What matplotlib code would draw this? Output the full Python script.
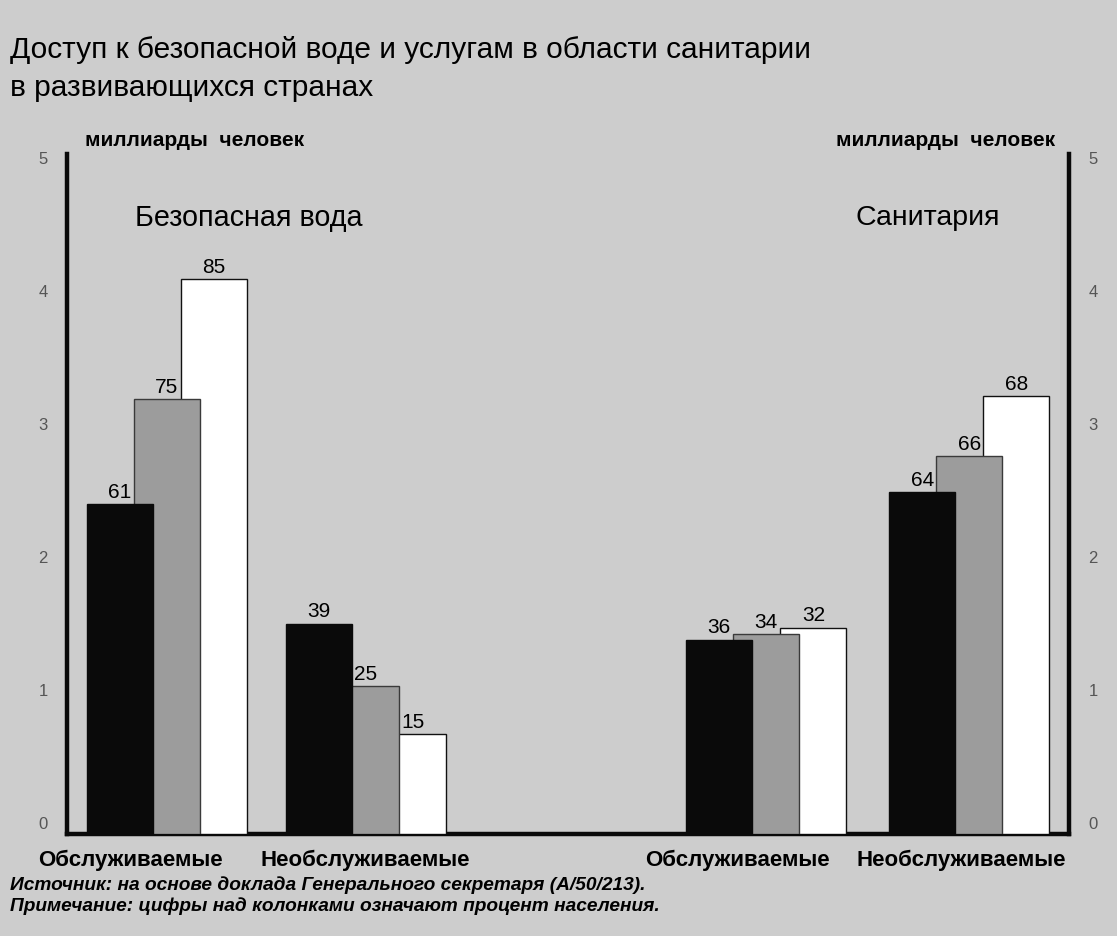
import matplotlib.pyplot as plt
from matplotlib.transforms import ScaledTranslation

plt.rcParams['font.family'] = ['Liberation Sans', 'DejaVu Sans']

# billions of people; three survey years per group (black, gray, white)
groups = ['Обслуживаемые', 'Необслуживаемые', 'Обслуживаемые', 'Необслуживаемые']
water_served = [2.48, 3.27, 4.17]
water_unserved = [1.58, 1.11, 0.75]
sanit_served = [1.46, 1.50, 1.55]
sanit_unserved = [2.57, 2.84, 3.29]
water_served_pct = [61, 75, 85]
water_unserved_pct = [39, 25, 15]
sanit_served_pct = [36, 34, 32]
sanit_unserved_pct = [64, 66, 68]

series = [water_served, water_unserved, sanit_served, sanit_unserved]
percents = [water_served_pct, water_unserved_pct, sanit_served_pct, sanit_unserved_pct]

bg = '#cdcdcd'
fills = ['#0a0a0a', '#9c9c9c', '#ffffff']
edges = ['#0a0a0a', '#3a3a3a', '#111111']

fig = plt.figure(figsize=(11.17, 9.37), dpi=100, facecolor=bg)
ax = fig.add_axes([67/1117, 102/937, 1002/1117, 680/937])
ax.set_facecolor(bg)

centers = [2.12, 6.36, 14.88, 19.20]
width = 1.40
for c, vals, pcts in zip(centers, series, percents):
    for i, (v, p) in enumerate(zip(vals, pcts)):
        x = c + (i - 1)
        ax.bar(x, v, width=width, color=fills[i], edgecolor=edges[i],
               linewidth=1.0, zorder=5 - i)
        ax.text(x, v + 0.025, str(p), ha='center', va='bottom',
                fontsize=15, zorder=6)

ax.set_xlim(0, 21.32)
ax.set_ylim(0, 5.11)
ax.set_xticks([])
ax.set_yticks(range(6))
ax.tick_params(axis='y', length=0, labelsize=12, labelcolor='#555555',
               pad=14, labelright=True)
# tick numbers sit a little above their gridline positions
for t in ax.yaxis.get_major_ticks():
    for lab in (t.label1, t.label2):
        lab.set_transform(lab.get_transform() + ScaledTranslation(0, 0.12, fig.dpi_scale_trans))

ax.spines['top'].set_visible(False)
for s in ['left', 'right', 'bottom']:
    ax.spines[s].set_linewidth(3.2)
    ax.spines[s].set_color('#0a0a0a')

fig.text(10/1117, 1 - 50/937, 'Доступ к безопасной воде и услугам в области санитарии',
         fontsize=21.5, va='center', ha='left')
fig.text(10/1117, 1 - 88/937, 'в развивающихся странах',
         fontsize=21.5, va='center', ha='left')

fig.text(85/1117, 1 - 141/937, 'миллиарды  человек', fontsize=15,
         fontweight='bold', va='center', ha='left')
fig.text(1055/1117, 1 - 141/937, 'миллиарды  человек', fontsize=15,
         fontweight='bold', va='center', ha='right')

fig.text(135/1117, 1 - 218/937, 'Безопасная вода', fontsize=20.7, va='center', ha='left')
fig.text(855/1117, 1 - 218/937, 'Санитария', fontsize=20.5, va='center', ha='left')

label_x = [130, 365, 737, 961]
for x, g in zip(label_x, groups):
    fig.text(x/1117, 1 - 860/937, g, fontsize=16, fontweight='bold',
             va='center', ha='center')

fig.text(10/1117, 1 - 885/937,
         'Источник: на основе доклада Генерального секретаря (A/50/213).',
         fontsize=13.8, style='italic', fontweight='bold', va='center', ha='left')
fig.text(10/1117, 1 - 906/937,
         'Примечание: цифры над колонками означают процент населения.',
         fontsize=13.8, style='italic', fontweight='bold', va='center', ha='left')

fig.savefig('out.png', dpi=100, facecolor=bg)
